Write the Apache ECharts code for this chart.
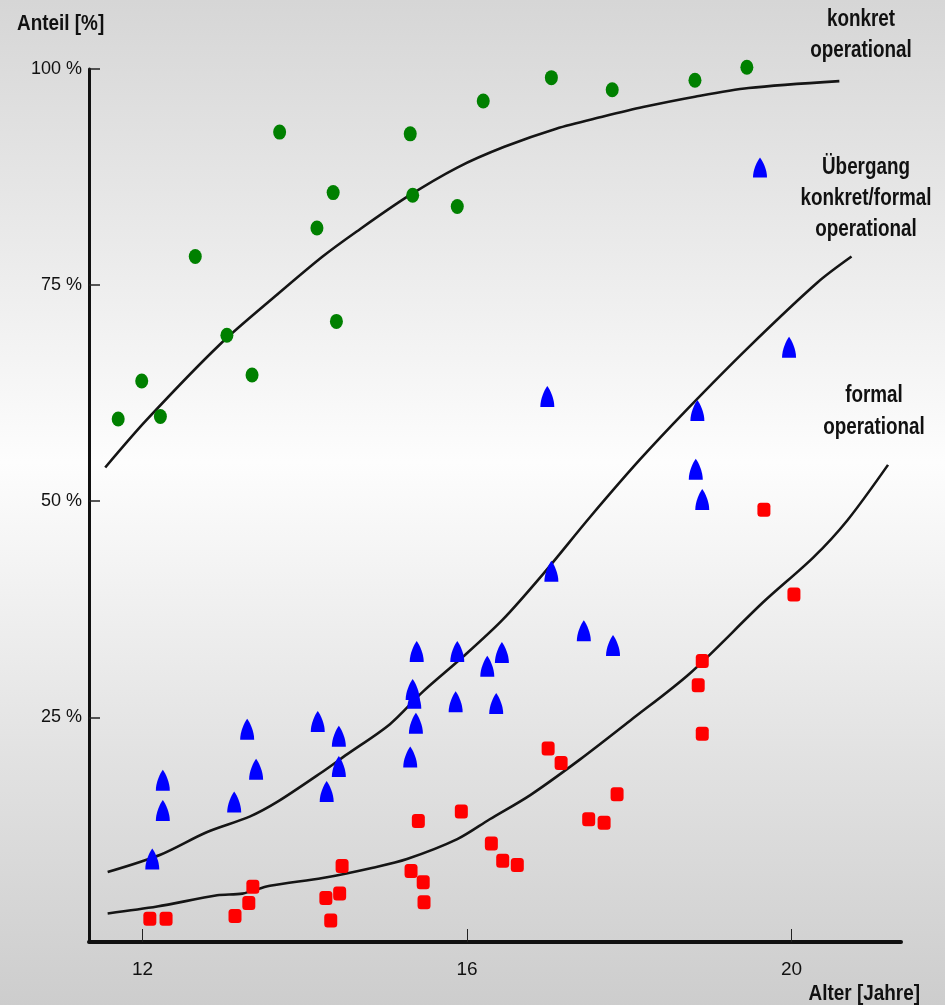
<!DOCTYPE html>
<html>
<head>
<meta charset="utf-8">
<script src="https://cdn.jsdelivr.net/npm/echarts@6/dist/echarts.min.js"></script>
<style>
html,body{margin:0;padding:0;width:945px;height:1005px;overflow:hidden;}
#chart{width:945px;height:1005px;}
</style>
</head>
<body>
<div id="chart"></div>
<script>
// ---- tick labels ----
const xTicks = [12, 16, 20];
const yTicks = [25, 50, 75, 100];

// ---- observed data: [Alter (Jahre), Anteil (%)] ----
const konkretPoints = [
  [11.70, 59.5], [11.99, 63.9], [12.22, 59.8], [12.65, 78.3], [13.04, 69.2],
  [13.35, 64.6], [13.69, 92.7], [14.15, 81.6], [14.35, 85.7], [14.39, 70.8],
  [15.30, 92.5], [15.33, 85.4], [15.88, 84.1], [16.20, 96.3], [17.04, 99.0],
  [17.79, 97.6], [18.81, 98.7], [19.45, 100.2]
];
const uebergangPoints = [
  [12.25, 17.7], [12.25, 14.2], [12.12, 8.6], [13.29, 23.6], [13.40, 19.0],
  [13.13, 15.2], [14.16, 24.5], [14.42, 22.8], [14.42, 19.3], [14.27, 16.4],
  [15.38, 32.6], [15.88, 32.6], [16.43, 32.5], [16.25, 30.9], [15.33, 28.2],
  [15.35, 27.2], [15.86, 26.8], [16.36, 26.6], [15.37, 24.3], [15.30, 20.4],
  [16.99, 62.1], [18.84, 60.5], [18.82, 53.7], [18.90, 50.2], [17.04, 41.9],
  [17.44, 35.0], [17.80, 33.3], [19.97, 67.8]
];
const formalPoints = [
  [19.66, 49.0], [20.03, 39.2], [18.90, 31.5], [18.85, 28.7], [18.90, 23.1],
  [17.00, 21.4], [17.16, 19.7], [17.85, 16.1], [17.50, 13.2], [17.69, 12.8],
  [16.30, 10.4], [16.44, 8.4], [16.62, 7.9], [12.09, 1.7], [12.29, 1.7],
  [13.14, 2.0], [13.31, 3.5], [13.36, 5.4], [14.46, 7.8], [14.43, 4.6],
  [14.26, 4.1], [14.32, 1.5], [15.40, 13.0], [15.93, 14.1], [15.31, 7.2],
  [15.46, 5.9], [15.47, 3.6]
];

// ---- fitted trend curves ----
const konkretCurve = [
  [11.54, 53.9], [12.05, 59.4], [12.95, 68.1], [13.66, 73.9], [14.22, 78.3],
  [14.64, 81.2], [15.26, 85.2], [15.88, 88.6], [16.46, 91.0], [17.10, 93.1],
  [17.68, 94.5], [18.17, 95.6], [18.81, 96.8], [19.47, 97.8], [20.59, 98.6]
];
const uebergangCurve = [
  [11.57, 7.1], [12.22, 9.1], [12.79, 11.7], [13.32, 13.5], [13.66, 15.2],
  [14.22, 18.7], [14.52, 20.7], [15.05, 24.2], [15.46, 28.0], [15.95, 32.0],
  [16.44, 36.3], [16.94, 41.6], [17.52, 48.2], [18.13, 54.8], [18.71, 60.6],
  [19.47, 67.8], [20.32, 75.3], [20.74, 78.3]
];
const formalCurve = [
  [11.57, 2.3], [12.18, 3.1], [12.92, 4.4], [13.23, 4.6], [13.57, 5.5],
  [14.22, 6.4], [14.84, 7.6], [15.26, 8.6], [15.88, 10.9], [16.28, 13.2],
  [16.78, 16.0], [17.39, 20.1], [18.01, 24.6], [18.75, 30.1], [19.65, 38.3],
  [20.27, 43.5], [20.69, 47.8], [21.19, 54.2]
];

const sans = "'Liberation Sans', Arial, sans-serif";
const bulletPath = 'path://M7,0 C10,4 14,12 14,20 L0,20 C0,12 4,4 7,0 Z';
const uebergangName = 'Übergang konkret/formal operational';

const chart = echarts.init(document.getElementById('chart'));

function curveSeries(data) {
  return {
    type: 'line', data: data, smooth: 0.3, showSymbol: false, silent: true,
    lineStyle: { color: '#151515', width: 2.6 }, z: 2
  };
}

function label(text, x, y, size, align, weight, sx, lh) {
  return {
    type: 'text', x: x, y: y, scaleX: sx, silent: true,
    style: {
      text: text, fill: '#111', align: align, verticalAlign: 'middle',
      font: weight + ' ' + size + 'px ' + sans, lineHeight: lh || size
    }
  };
}

const option = {
  animation: false,
  backgroundColor: {
    type: 'linear', x: 0, y: 0, x2: 0, y2: 1,
    colorStops: [
      { offset: 0, color: '#d6d6d6' },
      { offset: 0.3, color: '#efefef' },
      { offset: 0.46, color: '#fdfdfd' },
      { offset: 0.75, color: '#e2e2e2' },
      { offset: 1, color: '#cdcdcd' }
    ]
  },
  grid: { left: 89, right: 44, top: 69, bottom: 63 },
  legend: {
    data: [uebergangName], left: 753, top: 157, icon: bulletPath,
    itemWidth: 14, itemHeight: 21, selectedMode: false, formatter: function () { return ''; },
    padding: 0, itemGap: 0
  },
  xAxis: {
    type: 'value', min: 11.34, max: 21.35,
    axisLine: { show: true, onZero: false, lineStyle: { color: '#111', width: 4 } },
    axisTick: { show: true, inside: true, length: 13, customValues: xTicks, lineStyle: { color: '#222', width: 1 } },
    axisLabel: { customValues: xTicks, color: '#111', fontFamily: sans, fontSize: 19, margin: 18 },
    splitLine: { show: false }
  },
  yAxis: {
    type: 'value', min: -1, max: 100,
    axisLine: { show: true, onZero: false, lineStyle: { color: '#111', width: 3 } },
    axisTick: { show: true, inside: true, length: 11, customValues: yTicks, lineStyle: { color: '#222', width: 1.5 } },
    axisLabel: { customValues: yTicks, formatter: '{value} %', color: '#111', fontFamily: sans, fontSize: 18, margin: 7 },
    splitLine: { show: false }
  },
  series: [
    curveSeries(konkretCurve),
    curveSeries(uebergangCurve),
    curveSeries(formalCurve),
    {
      name: 'konkret operational', type: 'scatter', data: konkretPoints, clip: false, z: 5,
      symbol: 'circle', symbolSize: [13, 15], itemStyle: { color: '#008000', opacity: 1 }
    },
    {
      name: uebergangName, type: 'scatter', data: uebergangPoints, clip: false, z: 5,
      symbol: bulletPath, symbolSize: [14, 21], itemStyle: { color: '#0000ff', opacity: 1 }
    },
    {
      name: 'formal operational', type: 'scatter', data: formalPoints, clip: false, z: 5,
      symbol: 'roundRect', symbolSize: [13, 14], itemStyle: { color: '#ff0000', opacity: 1 }
    }
  ],
  graphic: [
    label('Anteil [%]', 17, 24, 22, 'left', 'bold', 0.86),
    label('Alter [Jahre]', 920, 994, 22, 'right', 'bold', 0.86),
    label('konkret\noperational', 861, 35.5, 23, 'center', 'bold', 0.82, 31),
    label('Übergang\nkonkret/formal\noperational', 866, 198.5, 23, 'center', 'bold', 0.82, 31),
    label('formal\noperational', 874, 411.5, 23, 'center', 'bold', 0.82, 32)
  ]
};
chart.setOption(option);
</script>
</body>
</html>
